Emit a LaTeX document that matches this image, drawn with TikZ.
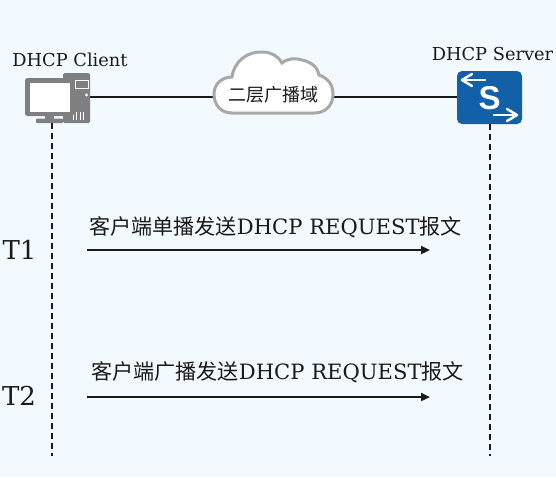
\documentclass[tikz,border=0pt]{standalone}
\usepackage{fontspec}
\setmainfont{DejaVu Serif}
\newfontfamily\cjk{Noto Sans CJK SC}
\newfontfamily\swfont{Liberation Sans}
\usetikzlibrary{arrows.meta}
\definecolor{bgc}{HTML}{F3FAFF}
\definecolor{ink}{HTML}{1A1A1A}
\definecolor{pcgray}{HTML}{7F7F7F}
\definecolor{cloudgray}{HTML}{A8A8A8}
\definecolor{swblue}{HTML}{1160A8}
\tikzset{
  link/.style={draw=ink,line width=2.2pt},
  life/.style={draw=ink,line width=2.2pt,dash pattern=on 6pt off 4pt},
  msg/.style={draw=ink,line width=2.2pt,-{Triangle[length=9pt,width=8pt]}},
  role/.style={font=\fontsize{17.8}{20}\selectfont,text=ink,inner sep=0pt},
  tlabel/.style={font=\fontsize{26}{28}\selectfont,text=ink,inner sep=0pt},
  msgtext/.style={font=\fontsize{21.1}{23}\selectfont,text=ink,inner sep=0pt},
  anchorbox/.style={inner sep=0pt,minimum width=#1},
  swarrow/.style={draw=white,line width=2.5pt,line cap=round,line join=round}
}
\begin{document}
\begin{tikzpicture}[x=1pt,y=-1pt]
\useasboundingbox[fill=bgc] (0,0) rectangle (556,477);
% anchors
\node[anchorbox=65pt,minimum height=50pt] (client) at (57.5,98) {};
\node[anchorbox=65pt,minimum height=53pt] (server) at (489.5,97.5) {};
\node[anchorbox=120pt,minimum height=40pt] (cloud) at (273,93) {};
\coordinate (clientport) at (90,97);
\coordinate (clientfoot) at (52,123);
\coordinate (clientend) at (52,456);
\coordinate (serverport) at (457,97);
\coordinate (serverfoot) at (490,124);
\coordinate (serverend) at (490,456);
\coordinate (a1s) at (87,250);
\coordinate (a1e) at (430,250);
\coordinate (a2s) at (87,397);
\coordinate (a2e) at (430,397);
% connectors
\draw[link] (clientport) -- (cloud.west |- clientport);
\draw[link] (cloud.east |- serverport) -- (serverport);
\draw[life] (clientfoot) -- (clientend);
\draw[life] (serverfoot) -- (serverend);
\draw[msg] (a1s) -- (a1e);
\draw[msg] (a2s) -- (a2e);
% client icon
\fill[pcgray,rounded corners=1.5pt] (63,73) rectangle (90,123);
\draw[bgc,line width=.8pt] (75,80) rectangle (88,88);
\fill[white] (86.5,95) circle (1.6);
\foreach \x in {73,76.5,80,83}{\draw[white,line width=.8pt] (\x,112) -- (\x,120);}
\fill[pcgray,rounded corners=2.5pt] (25,78) rectangle (74,116);
\fill[white] (30,83) rectangle (70,112);
\fill[pcgray] (45,116) rectangle (54,119);
\fill[pcgray,rounded corners=1pt] (36,118.5) rectangle (63,123);
% cloud
\draw[cloudgray,line width=3pt,fill=white]
  (232,77) .. controls (234,61) and (248,51) .. (263,52) .. controls (271,52) and (278,56) .. (282,63)
  .. controls (288,58) and (296,58) .. (302,60) .. controls (312,62) and (318,68) .. (319,75)
  .. controls (328,78) and (333,85) .. (333,94) .. controls (333,106) and (325,113) .. (314,113)
  -- (232,113) .. controls (221,113) and (214,105) .. (214,94) .. controls (214,84) and (222,77) .. (232,77) -- cycle;
\node[font=\cjk\fontsize{18}{20}\selectfont,text=ink,inner sep=0pt] (cloudtext) at (273,95) {二层广播域};
% server icon
\fill[swblue,rounded corners=5pt] (457,71) rectangle (522,124);
\draw[swarrow] (485,80) -- (462,80);
\draw[swarrow] (472,74) -- (462,80) -- (472,86);
\draw[swarrow] (494,115) -- (517,115);
\draw[swarrow] (507,109) -- (517,115) -- (507,121);
\node[text=white,inner sep=0pt,font=\swfont\bfseries\fontsize{33}{35}\selectfont] (srvS) at (489.5,98) {S};
% labels
\node[role] (clientlabel) at (70,60) {DHCP Client};
\node[role] (serverlabel) at (492.5,54) {DHCP Server};
\node[tlabel] (t1) at (19.5,250) {T1};
\node[tlabel] (t2) at (19,396) {T2};
\node[msgtext] (m1) at (275.5,227.5) {{\cjk 客户端单播发送}DHCP REQUEST{\cjk 报文}};
\node[msgtext] (m2) at (277.5,372) {{\cjk 客户端广播发送}DHCP REQUEST{\cjk 报文}};
\end{tikzpicture}
\end{document}
